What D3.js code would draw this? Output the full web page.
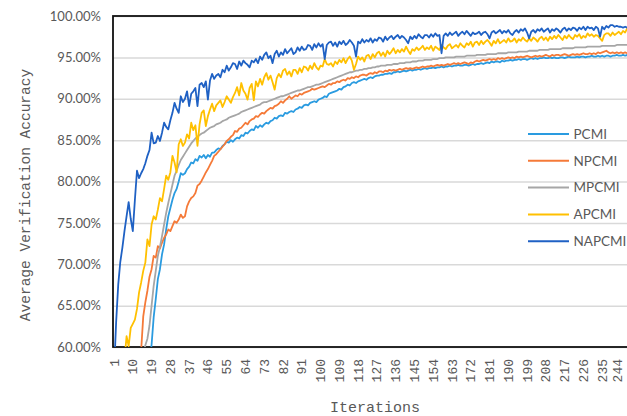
<!DOCTYPE html>
<html>
<head>
<meta charset="utf-8">
<script src="https://cdn.jsdelivr.net/npm/d3@7/dist/d3.min.js"></script>
<style>
  body { margin: 0; background: #fff; }
  svg { display: block; }
</style>
</head>
<body>
<svg id="chart" width="627" height="416"></svg>
<script>
// Iteration index (category axis) and the labels shown along it
const iterations = d3.range(1, 251);
const tickLabels = [1, 10, 19, 28, 37, 46, 55, 64, 73, 82, 91, 100, 109, 118, 127, 136, 145,
  154, 163, 172, 181, 190, 199, 208, 217, 226, 235, 244];
const yTicks = [60, 65, 70, 75, 80, 85, 90, 95, 100];

const seriesNames = ["PCMI", "NPCMI", "MPCMI", "APCMI", "NAPCMI"];
const seriesColors = ["#2a9be0", "#f57a38", "#a6a6a6", "#ffc000", "#1f61c4"];

// Average verification accuracy (%) per iteration
const pcmi = [
  20.1, 24.6, 28.9, 32.4, 35.8, 38.9, 41.7, 44.2, 46.3, 48.1,
  49.8, 51.2, 52.5, 53.6, 54.7, 55.6, 56.5, 58.0, 60.3, 63.6,
  65.8, 68.2, 69.4, 71.2, 72.4, 74.2, 75.8, 76.8, 77.8, 78.6,
  79.1, 80.0, 81.0, 80.8, 81.0, 81.5, 81.8, 82.3, 82.2, 82.7,
  82.5, 83.1, 82.9, 83.2, 82.8, 83.2, 83.0, 83.5, 83.5, 83.8,
  84.0, 83.9, 84.3, 84.5, 84.8, 84.7, 85.0, 84.8, 85.1, 85.3,
  85.2, 85.6, 85.5, 85.9, 85.8, 86.1, 86.3, 86.2, 86.7, 86.5,
  86.8, 86.6, 86.9, 87.1, 87.0, 87.3, 87.4, 87.7, 87.6, 87.9,
  88.0, 87.9, 88.3, 88.2, 88.4, 88.5, 88.4, 88.7, 88.8, 89.0,
  88.9, 89.2, 89.3, 89.2, 89.5, 89.6, 89.7, 89.6, 89.9, 90.0,
  90.1, 90.3, 90.2, 90.6, 90.7, 90.8, 90.9, 91.0, 91.2, 91.1,
  91.4, 91.5, 91.7, 91.6, 91.9, 92.0, 91.9, 92.1, 92.2, 92.3,
  92.4, 92.3, 92.5, 92.6, 92.5, 92.7, 92.8, 92.8, 92.9, 92.9,
  93.0, 93.0, 93.1, 93.0, 93.2, 93.2, 93.3, 93.2, 93.3, 93.4,
  93.3, 93.4, 93.5, 93.4, 93.5, 93.5, 93.6, 93.5, 93.6, 93.7,
  93.6, 93.7, 93.7, 93.8, 93.7, 93.8, 93.8, 93.9, 93.8, 93.9,
  93.9, 94.0, 93.9, 94.0, 94.0, 94.1, 94.0, 94.0, 94.1, 94.1,
  94.0, 94.1, 94.2, 94.1, 94.2, 94.2, 94.3, 94.2, 94.3, 94.4,
  94.3, 94.5, 94.4, 94.5, 94.5, 94.4, 94.6, 94.5, 94.6, 94.6,
  94.7, 94.6, 94.7, 94.7, 94.8, 94.7, 94.8, 94.8, 94.7, 94.8,
  94.9, 94.8, 94.9, 94.8, 94.9, 94.9, 95.0, 94.9, 94.9, 95.0,
  94.9, 95.0, 94.9, 94.9, 95.0, 95.0, 94.9, 95.0, 95.1, 95.0,
  95.0, 95.0, 95.1, 95.0, 95.1, 95.1, 95.0, 95.1, 95.1, 95.2,
  95.1, 95.1, 95.2, 95.1, 95.2, 95.1, 95.2, 95.2, 95.1, 95.2,
  95.2, 95.3, 95.2, 95.2, 95.3, 95.2, 95.3, 95.2, 95.3, 95.3
];
const npcmi = [
  18.5, 23.0, 27.2, 31.0, 34.6, 38.0, 41.2, 44.1, 46.8, 49.3,
  51.7, 54.0, 56.9, 59.6, 63.7, 65.4, 66.8, 68.5, 69.4, 71.0,
  70.8, 72.2, 71.9, 72.6, 73.2, 73.6, 74.2, 74.0, 74.6, 75.2,
  75.0, 75.4, 76.0, 75.6, 75.8, 77.0, 77.6, 78.0, 78.2, 78.6,
  79.5, 79.7, 80.1, 80.6, 81.1, 81.5, 82.0, 82.5, 83.1, 83.3,
  83.6, 83.9, 84.2, 84.5, 84.9, 85.1, 85.4, 85.6, 86.1, 86.0,
  86.4, 86.5, 86.8, 87.1, 86.9, 87.3, 87.5, 87.6, 87.9, 87.8,
  88.1, 88.3, 88.2, 88.5, 88.7, 88.9, 88.8, 89.1, 89.2, 89.4,
  89.7, 89.5, 89.8, 90.0, 90.3, 90.0, 90.2, 90.4, 90.3, 90.6,
  90.5, 90.7, 90.8, 90.9, 91.0, 91.2, 91.1, 91.2, 91.3, 91.4,
  91.5, 91.4, 91.6, 91.8, 91.7, 91.9, 91.9, 92.1, 92.0, 92.2,
  92.3, 92.2, 92.5, 92.4, 92.6, 92.5, 92.7, 92.6, 92.8, 92.9,
  92.9, 92.8, 93.0, 93.1, 93.0, 93.2, 93.1, 93.3, 93.3, 93.2,
  93.4, 93.3, 93.5, 93.4, 93.5, 93.4, 93.5, 93.6, 93.5, 93.6,
  93.7, 93.6, 93.7, 93.6, 93.7, 93.8, 93.7, 93.8, 93.9, 93.8,
  93.9, 93.9, 94.0, 93.9, 94.0, 94.1, 94.0, 94.1, 94.0, 94.1,
  94.2, 94.1, 94.2, 94.3, 94.2, 94.3, 94.2, 94.3, 94.4, 94.3,
  94.2, 94.4, 94.3, 94.5, 94.6, 94.5, 94.6, 94.7, 94.6, 94.7,
  94.8, 94.7, 94.8, 94.7, 94.9, 94.8, 94.9, 94.8, 94.9, 95.0,
  94.9, 95.0, 94.9, 95.1, 95.0, 95.1, 95.0, 95.1, 95.2, 95.1,
  95.0, 95.1, 95.2, 95.1, 95.2, 95.1, 95.2, 95.3, 95.2, 95.1,
  95.3, 95.2, 95.3, 95.3, 95.2, 95.3, 95.4, 95.3, 95.2, 95.3,
  95.4, 95.3, 95.4, 95.3, 95.4, 95.5, 95.4, 95.4, 95.5, 95.4,
  95.5, 95.4, 95.6, 95.5, 95.6, 95.7, 95.8, 95.6, 95.5, 95.6,
  95.5, 95.6, 95.5, 95.6, 95.5, 95.6, 95.5, 95.6, 95.6, 95.5
];
const mpcmi = [
  16.0, 21.0, 25.6, 29.8, 33.7, 37.3, 40.6, 43.7, 46.5, 49.1,
  51.5, 53.7, 55.7, 57.5, 59.1, 60.2, 61.0, 62.6, 65.0, 67.4,
  69.2, 71.0, 72.1, 73.4, 74.8, 76.2, 77.4, 78.5, 79.6, 80.7,
  81.3, 82.0, 82.6, 83.0, 83.4, 83.8, 84.2, 84.6, 84.9, 85.2,
  85.4, 85.6, 85.8, 85.9, 86.1, 86.3, 86.5, 86.6, 86.7, 86.9,
  87.0, 87.1, 87.3, 87.4, 87.5, 87.7, 87.8, 87.9, 88.0, 88.1,
  88.2, 88.4, 88.5, 88.6, 88.7, 88.8, 88.9, 89.0, 89.1, 89.2,
  89.3, 89.5, 89.6, 89.6, 89.7, 89.8, 89.9, 90.0, 90.1, 90.2,
  90.3, 90.3, 90.4, 90.5, 90.6, 90.7, 90.8, 90.9, 91.0, 91.0,
  91.1, 91.2, 91.3, 91.4, 91.4, 91.5, 91.6, 91.7, 91.7, 91.8,
  91.9, 92.0, 92.1, 92.2, 92.3, 92.4, 92.5, 92.6, 92.7, 92.8,
  92.9, 93.0, 93.1, 93.2, 93.2, 93.3, 93.4, 93.4, 93.5, 93.5,
  93.6, 93.6, 93.7, 93.7, 93.8, 93.8, 93.9, 93.9, 94.0, 94.0,
  94.0, 94.1, 94.1, 94.1, 94.2, 94.2, 94.2, 94.3, 94.3, 94.3,
  94.4, 94.4, 94.4, 94.5, 94.5, 94.5, 94.6, 94.6, 94.6, 94.7,
  94.7, 94.7, 94.7, 94.8, 94.8, 94.8, 94.9, 94.9, 94.9, 95.0,
  95.0, 95.0, 95.0, 95.0, 95.1, 95.1, 95.1, 95.1, 95.1, 95.2,
  95.2, 95.2, 95.2, 95.2, 95.3, 95.3, 95.3, 95.3, 95.3, 95.4,
  95.4, 95.4, 95.4, 95.4, 95.5, 95.5, 95.5, 95.5, 95.5, 95.6,
  95.6, 95.6, 95.6, 95.6, 95.7, 95.7, 95.7, 95.7, 95.7, 95.8,
  95.8, 95.8, 95.8, 95.8, 95.9, 95.9, 95.9, 95.9, 95.9, 96.0,
  96.0, 96.0, 96.0, 96.0, 96.0, 96.1, 96.1, 96.1, 96.1, 96.1,
  96.1, 96.2, 96.2, 96.2, 96.2, 96.2, 96.2, 96.3, 96.3, 96.3,
  96.3, 96.3, 96.3, 96.3, 96.4, 96.4, 96.4, 96.4, 96.4, 96.4,
  96.4, 96.5, 96.5, 96.5, 96.5, 96.5, 96.5, 96.5, 96.5, 96.6
];
const apcmi = [
  30.2, 38.5, 45.1, 50.3, 54.8, 58.4, 61.3, 60.1, 62.3, 62.8,
  63.3, 64.6, 66.6, 67.8, 69.2, 70.2, 73.0, 72.2, 74.8, 75.8,
  75.4, 76.6, 78.0, 77.6, 79.1, 80.7, 80.2, 81.1, 83.1, 82.3,
  81.1, 84.5, 85.1, 84.3, 84.7, 85.7, 85.2, 87.1, 86.2, 86.8,
  84.3, 86.9, 88.3, 88.6, 86.7, 87.9, 88.7, 89.4, 88.5, 89.2,
  89.5, 89.8, 89.0, 89.6, 90.3, 89.9, 89.5, 90.2, 90.7, 91.4,
  90.4, 91.9, 91.0, 90.6, 89.9, 91.3, 91.8, 89.8, 92.1, 91.5,
  92.4, 91.7, 92.6, 93.1, 92.3, 92.8, 92.0, 91.1, 92.5, 93.0,
  92.6, 93.4, 93.6, 92.9, 93.3, 92.7, 93.5, 93.5, 93.0, 93.7,
  93.2, 93.9, 93.8, 93.4, 94.0, 93.6, 94.3, 93.8, 93.5, 94.0,
  93.9, 94.8, 94.2, 94.1, 94.3, 93.9, 94.5, 94.2, 94.7, 94.4,
  94.9, 94.3, 94.8, 95.1, 94.6, 93.5, 94.2, 95.1, 94.7, 95.0,
  94.5, 95.2, 95.3, 94.8, 95.4, 95.0, 95.5, 95.7, 95.2, 95.6,
  95.1, 95.8, 95.4, 95.7, 96.1, 95.5, 95.9, 95.6, 96.0, 95.7,
  96.3, 95.8, 95.4, 96.0, 95.8, 96.2, 95.9, 96.1, 96.4, 95.9,
  96.2, 96.0, 96.4, 95.8, 96.3, 96.1, 95.9, 96.5, 96.2, 96.0,
  96.4, 96.6, 96.1, 96.3, 96.5, 96.2, 96.7, 96.4, 96.2, 96.7,
  96.5, 96.9, 96.3, 96.8, 96.9, 96.5, 97.0, 96.6, 96.9, 97.1,
  96.8, 96.4, 97.0, 96.7, 97.2, 96.7, 96.9, 97.1, 96.8, 97.3,
  96.9, 97.0, 97.3, 96.8, 97.2, 97.0, 97.4, 97.1, 96.9, 97.3,
  97.0, 97.4, 97.2, 96.9, 97.3, 97.5, 97.1, 97.4, 97.0, 97.5,
  97.2, 97.6, 97.3, 97.7, 97.4, 97.1, 97.6, 97.3, 97.7, 97.4,
  97.2, 97.7, 97.5, 97.8, 97.3, 97.6, 97.4, 97.9, 97.6, 97.8,
  97.5, 97.7, 97.6, 97.3, 97.0, 97.7, 97.9, 97.9, 97.6, 98.0,
  97.7, 97.9, 98.1, 97.8, 98.2, 98.0, 98.5, 98.3, 98.4, 98.2
];
const napcmi = [
  57.0, 63.0, 67.5, 70.3, 72.0, 74.0, 75.8, 77.5, 75.5, 74.0,
  77.8, 81.3, 80.4, 81.0, 81.5, 82.2, 83.1, 83.8, 85.9, 84.6,
  84.7, 85.5, 84.9, 85.9, 87.1, 86.6, 86.3, 87.4, 88.3, 89.5,
  88.8, 88.3, 90.3, 89.6, 90.0, 90.9, 89.1, 90.6, 90.9, 91.3,
  89.1, 91.7, 91.9, 91.4, 92.1, 89.9, 92.2, 93.0, 92.4, 92.8,
  93.0, 92.6, 93.5, 93.2, 94.0, 93.4, 93.8, 94.3, 94.2, 93.6,
  94.5, 94.0, 94.6, 94.3, 94.1, 93.8, 94.6, 94.4, 94.8, 94.3,
  95.1, 94.7, 95.3, 95.6, 94.9, 95.2, 94.3, 95.4, 95.8, 95.1,
  95.6, 95.3, 96.0, 95.5, 95.8, 96.1, 95.4, 95.6, 96.2, 95.8,
  96.3, 95.9, 96.0, 96.5, 96.4, 95.9, 96.6, 96.2, 96.7, 96.3,
  96.6, 94.8, 96.5, 96.8, 96.9, 96.4, 96.8, 96.3, 96.9, 96.6,
  97.0, 96.5, 96.7, 97.1, 96.8, 96.4, 95.1, 96.9, 96.7, 97.2,
  96.8, 97.1, 96.9, 97.3, 96.8, 97.2, 97.0, 97.4, 97.3, 96.9,
  97.5, 97.1, 97.4, 97.6, 97.2, 97.5, 97.7, 97.3, 97.6, 97.4,
  97.1, 96.7, 97.5, 97.2, 97.6, 97.3, 97.8, 97.5, 97.3, 97.7,
  97.7, 97.4, 97.8, 97.5, 97.9, 97.6, 97.7, 95.5, 97.6, 97.9,
  97.6, 98.0, 97.7, 97.9, 98.1, 97.6, 97.9, 98.1, 97.8, 98.2,
  97.9, 97.6, 98.0, 97.8, 97.9, 98.1, 97.7, 98.0, 98.1, 97.8,
  97.3, 98.0, 98.2, 97.9, 98.1, 98.3, 97.9, 98.2, 98.0, 98.3,
  97.9, 97.7, 98.1, 98.3, 98.0, 98.4, 98.2, 98.5, 98.0, 97.3,
  98.1, 98.3, 98.0, 98.4, 98.2, 98.5, 98.1, 98.3, 98.5, 98.0,
  98.4, 98.2, 98.5, 98.3, 98.0, 98.4, 98.6, 98.2, 98.5, 98.3,
  98.6, 98.5, 98.2, 98.6, 98.4, 98.7, 98.3, 98.7, 98.5, 98.6,
  98.3, 98.7, 98.5, 97.5, 98.7, 98.4, 98.8, 98.6, 98.9, 98.9,
  98.7, 98.8, 98.7, 98.7, 98.6, 98.7, 98.6, 98.6, 98.7, 98.6
];

const seriesValues = [pcmi, npcmi, mpcmi, apcmi, napcmi];

const svg = d3.select("#chart");
const width = +svg.attr("width");
const plot = { left: 113, top: 16, right: 634.5, bottom: 347 };
const textColor = "#595959";

const x = d3.scaleBand().domain(iterations).range([plot.left, plot.right]);
const y = d3.scaleLinear().domain([60, 100]).range([plot.bottom, plot.top]);
const xc = d => x(d) + x.bandwidth() / 2;

svg.append("defs").append("clipPath").attr("id", "plot-clip")
  .append("rect")
  .attr("x", plot.left).attr("y", plot.top)
  .attr("width", plot.right - plot.left).attr("height", plot.bottom - plot.top);

// Horizontal gridlines and percentage labels
const yAxis = svg.append("g")
  .attr("transform", `translate(${plot.left},0)`)
  .call(d3.axisLeft(y)
    .tickValues(yTicks)
    .tickSize(-(plot.right - plot.left))
    .tickPadding(12)
    .tickFormat(d => d.toFixed(2) + "%"));
yAxis.select(".domain").remove();
yAxis.selectAll(".tick line").attr("stroke", "#d9d9d9").attr("stroke-width", 1.5);
yAxis.selectAll(".tick text")
  .attr("fill", textColor)
  .style("font-family", "Lato, 'Liberation Sans', sans-serif")
  .style("font-size", "13px");

// Category axis with vertical iteration labels; a label that would run past
// the right edge of the canvas is nudged back inside it
const xAxis = svg.append("g")
  .attr("transform", `translate(0,${plot.bottom})`)
  .call(d3.axisBottom(x).tickValues(tickLabels).tickSize(0));
xAxis.select(".domain").remove();
xAxis.selectAll(".tick text")
  .attr("transform", "rotate(-90)")
  .attr("text-anchor", "end")
  .attr("x", -12)
  .attr("y", 0)
  .attr("dy", d => (xc(d) > width - 9 ? "0.1em" : "0.35em"))
  .attr("fill", textColor)
  .style("font-family", "'Liberation Mono', 'DejaVu Sans Mono', monospace")
  .style("font-size", "13px");

// Plot area frame
svg.append("rect")
  .attr("x", plot.left).attr("y", plot.top)
  .attr("width", plot.right - plot.left).attr("height", plot.bottom - plot.top)
  .attr("fill", "none").attr("stroke", "#111").attr("stroke-width", 1.8);

// Series lines
const line = d3.line()
  .x((v, i) => xc(iterations[i]))
  .y(v => y(v));

svg.append("g").attr("clip-path", "url(#plot-clip)")
  .selectAll("path")
  .data(seriesValues)
  .join("path")
  .attr("d", line)
  .attr("fill", "none")
  .attr("stroke", (d, i) => seriesColors[i])
  .attr("stroke-width", 1.8)
  .attr("stroke-linejoin", "round");

// Legend
const legend = svg.append("g").attr("transform", "translate(528,134)");
const items = legend.selectAll("g")
  .data(seriesNames)
  .join("g")
  .attr("transform", (d, i) => `translate(0,${i * 26.8})`);
items.append("line")
  .attr("x1", 0).attr("x2", 41)
  .attr("stroke", (d, i) => seriesColors[i])
  .attr("stroke-width", 2);
items.append("text")
  .attr("x", 45.5)
  .attr("dy", "0.36em")
  .attr("fill", textColor)
  .style("font-family", "Lato, 'Liberation Sans', sans-serif")
  .style("font-size", "13.5px")
  .text(d => d);

// Axis titles
svg.append("text")
  .attr("transform", "translate(30,195) rotate(-90)")
  .attr("text-anchor", "middle")
  .attr("fill", textColor)
  .style("font-family", "'Liberation Mono', 'DejaVu Sans Mono', monospace")
  .style("font-size", "14.5px")
  .text("Average Verification Accuracy");

svg.append("text")
  .attr("x", 375).attr("y", 412)
  .attr("text-anchor", "middle")
  .attr("fill", textColor)
  .style("font-family", "'Liberation Mono', 'DejaVu Sans Mono', monospace")
  .style("font-size", "15px")
  .text("Iterations");
</script>
</body>
</html>
